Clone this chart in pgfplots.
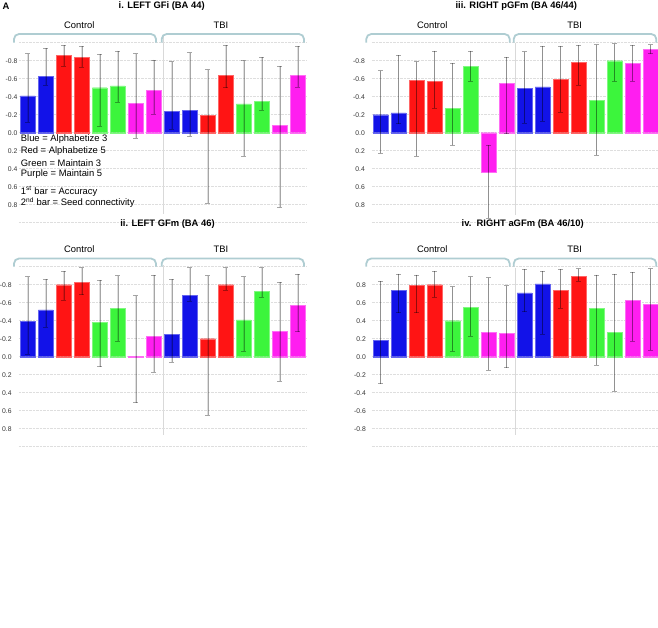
\documentclass[border=0pt]{standalone}
\usepackage{pgfplots}
\pgfplotsset{compat=1.18}
\usepackage{fontspec}
\setmainfont{Liberation Sans}
\definecolor{cB}{HTML}{1212E8}
\definecolor{cR}{HTML}{FF1414}
\definecolor{cG}{HTML}{3CF53C}
\definecolor{cM}{HTML}{FF1EF0}
\definecolor{brc}{HTML}{AFCDD2}
\newcommand\fs{\fontsize{9.4}{11}\selectfont}
\pgfplotsset{
 panel/.style={
  scale only axis, width=288pt, height=180pt, anchor=center,
  xmin=-0.5, xmax=15.5, ymin=-1, ymax=1,
  xtick=\empty,
  ytick={-0.8,-0.6,-0.4,-0.2,0,0.2,0.4,0.6,0.8},
  extra y ticks={-1,1}, extra y tick labels={,},
  extra y tick style={grid=major},
  ymajorgrids, grid style={black!13, densely dotted, line width=0.5pt},
  axis line style={draw=none},
  major tick length=0pt,
  yticklabel style={font=\fontsize{6.8}{7}\selectfont, inner sep=0pt, anchor=east, text=black!80},
  /pgf/number format/fixed, /pgf/number format/fixed zerofill,
  /pgf/number format/precision=1, /pgf/number format/assume math mode=true,
  bar width=0.82,
  error bars/error bar style={black, draw opacity=0.35, line width=0.6pt},
  error bars/error mark options={rotate=90, black, draw opacity=0.35, mark size=2.4pt, line width=0.6pt},
 },
 bb/.style={ybar, bar shift=0pt, fill=#1, draw=#1!65!white, line width=0.4pt,
   error bars/.cd, y dir=both, y explicit},
 table/tt/.style={x=x, y=v, y error plus expr=\thisrow{U}-\thisrow{v}, y error minus expr=\thisrow{v}-\thisrow{L}},
}
\begin{document}
\begin{tikzpicture}
\useasboundingbox (0,0) rectangle (658pt,-627pt);
% separators
\draw[black!15, line width=0.6pt] (162.8pt,-35pt) -- (162.8pt,-214pt);
\draw[black!15, line width=0.6pt] (515.5pt,-43pt) -- (515.5pt,-215pt);
\draw[black!15, line width=0.6pt] (162.8pt,-265pt) -- (162.8pt,-435pt);
\draw[black!15, line width=0.6pt] (515.5pt,-268pt) -- (515.5pt,-435pt);

% ---------- Panel i ----------
\begin{axis}[panel, at={(162.8pt,-132.7pt)}, y dir=reverse, yticklabel style={xshift=-1.3pt}]
\addplot[bb=cB] table[tt] {
x v L U
0 -0.41 -0.88 -0.12
1 -0.63 -0.94 -0.53
8 -0.24 -0.79 -0.04
9 -0.25 -0.89 0.04
};
\addplot[bb=cR] table[tt] {
x v L U
2 -0.86 -0.97 -0.74
3 -0.84 -0.96 -0.73
10 -0.19 -0.70 0.78
11 -0.64 -0.97 -0.50
};
\addplot[bb=cG] table[tt] {
x v L U
4 -0.50 -0.87 -0.07
5 -0.52 -0.91 -0.34
12 -0.32 -0.80 0.26
13 -0.35 -0.84 -0.25
};
\addplot[bb=cM] table[tt] {
x v L U
6 -0.33 -0.88 0.06
7 -0.47 -0.81 -0.21
14 -0.08 -0.74 0.83
15 -0.64 -0.96 -0.51
};
\end{axis}

% ---------- Panel iii ----------
\begin{axis}[panel, at={(515.5pt,-132.7pt)}, y dir=reverse, yticklabel style={xshift=-6.5pt}]
\addplot[bb=cB] table[tt] {
x v L U
0 -0.20 -0.69 0.23
1 -0.22 -0.86 -0.10
8 -0.49 -0.90 -0.11
9 -0.51 -0.96 -0.13
};
\addplot[bb=cR] table[tt] {
x v L U
2 -0.585 -0.79 0.26
3 -0.567 -0.91 -0.27
10 -0.59 -0.96 -0.23
11 -0.78 -0.97 -0.53
};
\addplot[bb=cG] table[tt] {
x v L U
4 -0.27 -0.77 0.14
5 -0.74 -0.91 -0.57
12 -0.36 -0.98 0.25
13 -0.80 -0.99 -0.57
};
\addplot[bb=cM] table[tt] {
x v L U
6 0.44 0.14 0.95
7 -0.55 -0.84 0.01
14 -0.77 -0.97 -0.57
15 -0.93 -0.98 -0.88
};
\end{axis}

% ---------- Panel ii ----------
\begin{axis}[panel, at={(162.8pt,-356.7pt)}, y dir=reverse, yticklabel style={xshift=-7pt}]
\addplot[bb=cB] table[tt] {
x v L U
0 -0.39 -0.89 -0.03
1 -0.52 -0.86 -0.33
8 -0.25 -0.86 0.06
9 -0.68 -0.99 -0.62
};
\addplot[bb=cR] table[tt] {
x v L U
2 -0.80 -0.95 -0.63
3 -0.83 -0.99 -0.69
10 -0.20 -0.90 0.65
11 -0.80 -0.99 -0.74
};
\addplot[bb=cG] table[tt] {
x v L U
4 -0.38 -0.85 0.11
5 -0.54 -0.90 -0.17
12 -0.41 -0.89 -0.06
13 -0.73 -0.99 -0.66
};
\addplot[bb=cM] table[tt] {
x v L U
6 -0.005 -0.68 0.51
7 -0.23 -0.91 0.17
14 -0.28 -0.83 0.27
15 -0.57 -0.92 -0.28
};
\end{axis}

% ---------- Panel iv ----------
\begin{axis}[panel, at={(515.5pt,-356.7pt)}, yticklabel style={xshift=-5.5pt}]
\addplot[bb=cB] table[tt] {
x v L U
0 0.18 -0.30 0.84
1 0.74 0.49 0.92
8 0.71 0.50 0.97
9 0.81 0.25 0.95
};
\addplot[bb=cR] table[tt] {
x v L U
2 0.79 0.49 0.91
3 0.80 0.66 0.95
10 0.74 0.54 0.97
11 0.89 0.84 0.98
};
\addplot[bb=cG] table[tt] {
x v L U
4 0.40 0.06 0.78
5 0.55 0.23 0.89
12 0.54 -0.09 0.91
13 0.27 -0.38 0.92
};
\addplot[bb=cM] table[tt] {
x v L U
6 0.27 -0.15 0.88
7 0.26 -0.12 0.79
14 0.63 0.17 0.94
15 0.58 0.07 0.98
};
\end{axis}

% ---------- braces ----------
\begin{scope}[brc, line width=1.8pt, rounded corners=5pt]
\draw (14pt,-42.7pt) -- (14pt,-34pt) -- (156pt,-34pt) -- (156pt,-42.7pt);
\draw (161.7pt,-42.7pt) -- (161.7pt,-34pt) -- (304pt,-34pt) -- (304pt,-42.7pt);
\draw (366.3pt,-42.7pt) -- (366.3pt,-34pt) -- (509.7pt,-34pt) -- (509.7pt,-42.7pt);
\draw (513.7pt,-42.7pt) -- (513.7pt,-34pt) -- (656.3pt,-34pt) -- (656.3pt,-42.7pt);
\draw (14pt,-266.7pt) -- (14pt,-258.5pt) -- (156pt,-258.5pt) -- (156pt,-266.7pt);
\draw (161.7pt,-266.7pt) -- (161.7pt,-258.5pt) -- (304pt,-258.5pt) -- (304pt,-266.7pt);
\draw (366.3pt,-266.7pt) -- (366.3pt,-258.5pt) -- (509.7pt,-258.5pt) -- (509.7pt,-266.7pt);
\draw (513.7pt,-266.7pt) -- (513.7pt,-258.5pt) -- (656.3pt,-258.5pt) -- (656.3pt,-266.7pt);
\end{scope}

% ---------- texts ----------
\node[font=\bfseries\fs, inner sep=0] at (6pt,-6.5pt) {A};
\node[font=\bfseries\fs, inner sep=0] at (161.7pt,-6.5pt) {i. LEFT GFi (BA 44)};
\node[font=\bfseries\fs, inner sep=0] at (516.3pt,-6.5pt) {iii. RIGHT pGFm (BA 46/44)};
\node[font=\bfseries\fs, inner sep=0] at (167.5pt,-224.3pt) {ii. LEFT GFm (BA 46)};
\node[font=\bfseries\fs, inner sep=0] at (522.7pt,-224.3pt) {iv.\ \ RIGHT aGFm (BA 46/10)};

\foreach \yy in {25,249} {
 \node[font=\fs, inner sep=0] at (79.3pt,-\yy pt) {Control};
 \node[font=\fs, inner sep=0] at (221pt,-\yy pt) {TBI};
 \node[font=\fs, inner sep=0] at (432.2pt,-\yy pt) {Control};
 \node[font=\fs, inner sep=0] at (574.7pt,-\yy pt) {TBI};
}

\node[font=\fs, inner sep=0, anchor=west] at (20.7pt,-139.5pt) {Blue = Alphabetize 3};
\node[font=\fs, inner sep=0, anchor=west] at (20.7pt,-151.5pt) {Red = Alphabetize 5};
\node[font=\fs, inner sep=0, anchor=west] at (20.7pt,-163.3pt) {Green = Maintain 3};
\node[font=\fs, inner sep=0, anchor=west] at (20.7pt,-174.3pt) {Purple = Maintain 5};
\node[font=\fs, inner sep=0, anchor=west] at (20.7pt,-191pt) {1\textsuperscript{st} bar = Accuracy};
\node[font=\fs, inner sep=0, anchor=west] at (20.7pt,-202.5pt) {2\textsuperscript{nd} bar = Seed connectivity};
\end{tikzpicture}
\end{document}
